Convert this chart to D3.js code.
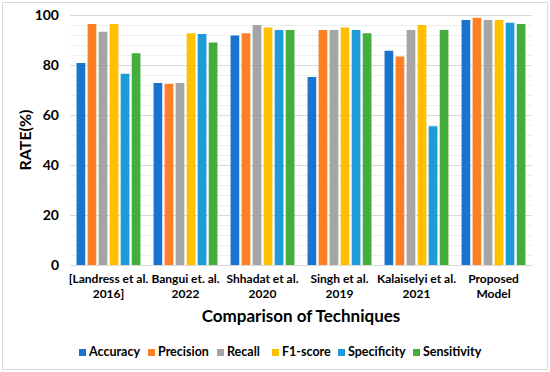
<!DOCTYPE html>
<html><head><meta charset="utf-8">
<script src="https://cdn.jsdelivr.net/npm/d3@7"></script>
<style>
html,body{margin:0;padding:0;background:#fff;}
text{font-family:Lato,"Liberation Sans",sans-serif;font-weight:bold;fill:#000;}
</style></head><body>
<svg id="c" width="550" height="372"></svg>
<script>
const categories = [["[Landress et al.","2016]"],["Bangui et. al.","2022"],["Shhadat et al.","2020"],["Singh et al.","2019"],["Kalaiselyi et al.","2021"],["Proposed","Model"]];
const seriesNames = ["Accuracy","Precision","Recall","F1-score","Specificity","Sensitivity"];
const colors = ["#1874cd","#fd7f26","#a5a5a5","#ffc000","#1f9bd9","#44ae3c"];
const accuracy    = [80.8, 72.8, 91.8, 75.2, 85.7, 98.0];
const precision   = [96.4, 72.5, 92.7, 94.0, 83.4, 98.9];
const recall      = [93.3, 72.8, 96.0, 94.0, 94.0, 98.0];
const f1score     = [96.4, 92.7, 95.0, 95.0, 96.0, 98.0];
const specificity = [76.5, 92.4, 94.0, 94.0, 55.5, 96.9];
const sensitivity = [84.7, 89.0, 94.0, 92.7, 94.0, 96.4];
const yTicks = [0,20,40,60,80,100];
const seriesValues = [accuracy, precision, recall, f1score, specificity, sensitivity];

const svg = d3.select("#c");
svg.append("rect").attr("x",2.5).attr("y",2.5).attr("width",545).attr("height",367)
  .attr("fill","#fff").attr("stroke","#d9d9d9").attr("stroke-width",1);

const m = {left:70, right:532, top:15, bottom:265};
const x0 = d3.scaleBand().domain(d3.range(categories.length)).range([m.left, m.right]).paddingInner(0.17).paddingOuter(0.085);
const x1 = d3.scaleBand().domain(d3.range(seriesNames.length)).range([0, x0.bandwidth()]).paddingInner(0.21);
const y = d3.scaleLinear().domain([0,100]).range([m.bottom, m.top]);

const g = svg.append("g");
g.append("g").attr("transform",`translate(${m.left},0)`)
  .call(d3.axisLeft(y).tickValues(d3.range(0,101,4)).tickSize(-(m.right-m.left)).tickFormat(""))
  .call(s=>{s.select(".domain").remove(); s.selectAll("line").attr("stroke","#efefef");});
g.append("g").attr("transform",`translate(${m.left},0)`)
  .call(d3.axisLeft(y).tickValues(yTicks).tickSize(-(m.right-m.left)).tickFormat(""))
  .call(s=>{s.select(".domain").remove(); s.selectAll("line").attr("stroke","#d9d9d9");});

svg.append("g").attr("transform",`translate(${m.left},0)`)
  .call(d3.axisLeft(y).tickValues(yTicks).tickSize(0).tickPadding(11))
  .call(s=>{s.select(".domain").remove(); s.selectAll("text").style("font-size","14px").style("font-family","Lato,sans-serif").style("font-weight","bold").attr("fill","#000");});

const groups = svg.append("g").selectAll("g").data(categories).join("g")
  .attr("transform",(d,i)=>`translate(${x0(i)},0)`);
groups.selectAll("rect").data((d,i)=>seriesValues.map((s,j)=>({j, v:s[i]}))).join("rect")
  .attr("x",d=>x1(d.j)).attr("width",x1.bandwidth())
  .attr("y",d=>y(d.v)).attr("height",d=>y(0)-y(d.v))
  .attr("fill",d=>colors[d.j]);

const xa = svg.append("g").attr("transform",`translate(0,${m.bottom})`)
  .call(d3.axisBottom(x0).tickSize(0).tickPadding(0).tickFormat(""));
xa.select(".domain").attr("stroke","#d9d9d9");
xa.selectAll(".tick").each(function(d){
  const t = d3.select(this).append("text").attr("text-anchor","middle")
    .style("font-size","12px").attr("fill","#000");
  categories[d].forEach((line,k)=>t.append("tspan").attr("x",0).attr("y",18+k*14.5).text(line));
});

svg.append("text").attr("transform",`translate(31,${(m.top+m.bottom)/2}) rotate(-90)`)
  .attr("text-anchor","middle").style("font-size","16px").text("RATE(%)");
svg.append("text").attr("x",(m.left+m.right)/2).attr("y",322).attr("text-anchor","middle")
  .style("font-size","17px").text("Comparison of Techniques");

const legX = [79,148,217,272,338,413];
const leg = svg.append("g").selectAll("g").data(seriesNames).join("g")
  .attr("transform",(d,i)=>`translate(${legX[i]},350)`);
leg.append("rect").attr("width",7).attr("height",7).attr("y",-1).attr("fill",(d,i)=>colors[i]);
leg.append("text").attr("x",10).attr("y",6).style("font-size","12.5px").text(d=>d);
</script></body></html>
